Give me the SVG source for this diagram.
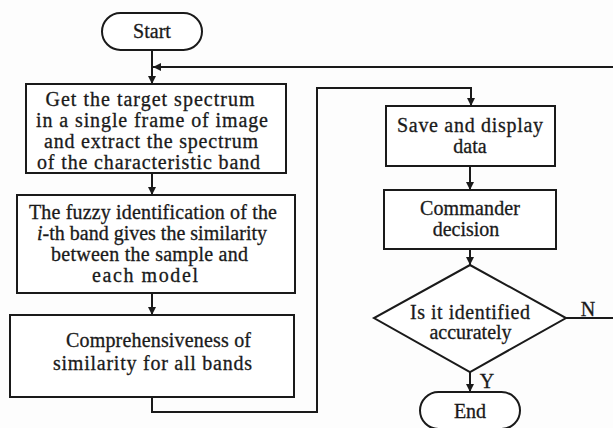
<svg xmlns="http://www.w3.org/2000/svg" width="613" height="428" viewBox="0 0 613 428">
<defs>
<marker id="ah" viewBox="0 0 10 10" refX="10" refY="5" markerWidth="8" markerHeight="8" markerUnits="userSpaceOnUse" orient="auto"><path d="M0,0 L10,5 L0,10 z" fill="#1a1a1a"/></marker>
<style>
.b{fill:#fff;stroke:#1a1a1a;stroke-width:2}
.c{fill:none;stroke:#1a1a1a;stroke-width:2}
text{font-family:'Liberation Serif','DejaVu Serif',serif;font-size:20px;fill:#1a1a1a;stroke:#1a1a1a;stroke-width:0.3;text-anchor:middle}
</style>
</defs>
<rect width="613" height="428" fill="#fdfdfd"/>
<g id="connectors">
<line class="c" x1="152" y1="50" x2="152" y2="84" marker-end="url(#ah)"/>
<line class="c" x1="613" y1="67" x2="153" y2="67" marker-end="url(#ah)"/>
<line class="c" x1="152" y1="173" x2="152" y2="195" marker-end="url(#ah)"/>
<line class="c" x1="152" y1="293" x2="152" y2="315" marker-end="url(#ah)"/>
<polyline class="c" points="152,397 152,412 317,412 317,88 471,88 471,106" marker-end="url(#ah)"/>
<line class="c" x1="470" y1="166" x2="470" y2="190" marker-end="url(#ah)"/>
<line class="c" x1="470" y1="249" x2="470" y2="265" marker-end="url(#ah)"/>
<line class="c" x1="470" y1="372" x2="470" y2="392" marker-end="url(#ah)"/>
<line class="c" x1="566" y1="318" x2="613" y2="318"/>
<text x="588" y="316">N</text>
<text x="487" y="388">Y</text>
</g>
<g id="start">
<rect class="b" x="102" y="13" width="100" height="37" rx="18.5"/>
<text x="152" y="38">Start</text>
</g>
<g id="get-spectrum">
<rect class="b" x="26" y="84" width="260" height="89"/>
<text x="150" y="106" textLength="209" lengthAdjust="spacing">Get the target spectrum</text>
<text x="152" y="127" textLength="232" lengthAdjust="spacing">in a single frame of image</text>
<text x="151" y="148" textLength="214" lengthAdjust="spacing">and extract the spectrum</text>
<text x="148.5" y="169" textLength="223" lengthAdjust="spacing">of the characteristic band</text>
</g>
<g id="fuzzy">
<rect class="b" x="17" y="195" width="278" height="98"/>
<text x="153" y="219" textLength="248" lengthAdjust="spacing">The fuzzy identification of the</text>
<text x="152" y="240" textLength="230" lengthAdjust="spacing"><tspan font-style="italic">i</tspan>-th band gives the similarity</text>
<text x="149.5" y="261" textLength="197" lengthAdjust="spacing">between the sample and</text>
<text x="145" y="282" textLength="106" lengthAdjust="spacing">each model</text>
</g>
<g id="comprehensive">
<rect class="b" x="10" y="315" width="284" height="82"/>
<text x="158.5" y="347" textLength="185" lengthAdjust="spacing">Comprehensiveness of</text>
<text x="152.5" y="370" textLength="199" lengthAdjust="spacing">similarity for all bands</text>
</g>
<g id="save">
<rect class="b" x="386" y="106" width="169" height="60"/>
<text x="470" y="132" textLength="146" lengthAdjust="spacing">Save and display</text>
<text x="470" y="153">data</text>
</g>
<g id="commander">
<rect class="b" x="384" y="190" width="172" height="59"/>
<text x="470" y="215" textLength="100" lengthAdjust="spacing">Commander</text>
<text x="466" y="236">decision</text>
</g>
<g id="decision">
<polygon class="b" points="470,265 566,318 470,372 374,318"/>
<text x="470" y="319" textLength="120" lengthAdjust="spacing">Is  it identified</text>
<text x="470.5" y="339">accurately</text>
</g>
<g id="end">
<rect class="b" x="420" y="392" width="100" height="37" rx="18.5"/>
<text x="470" y="418">End</text>
</g>
</svg>
